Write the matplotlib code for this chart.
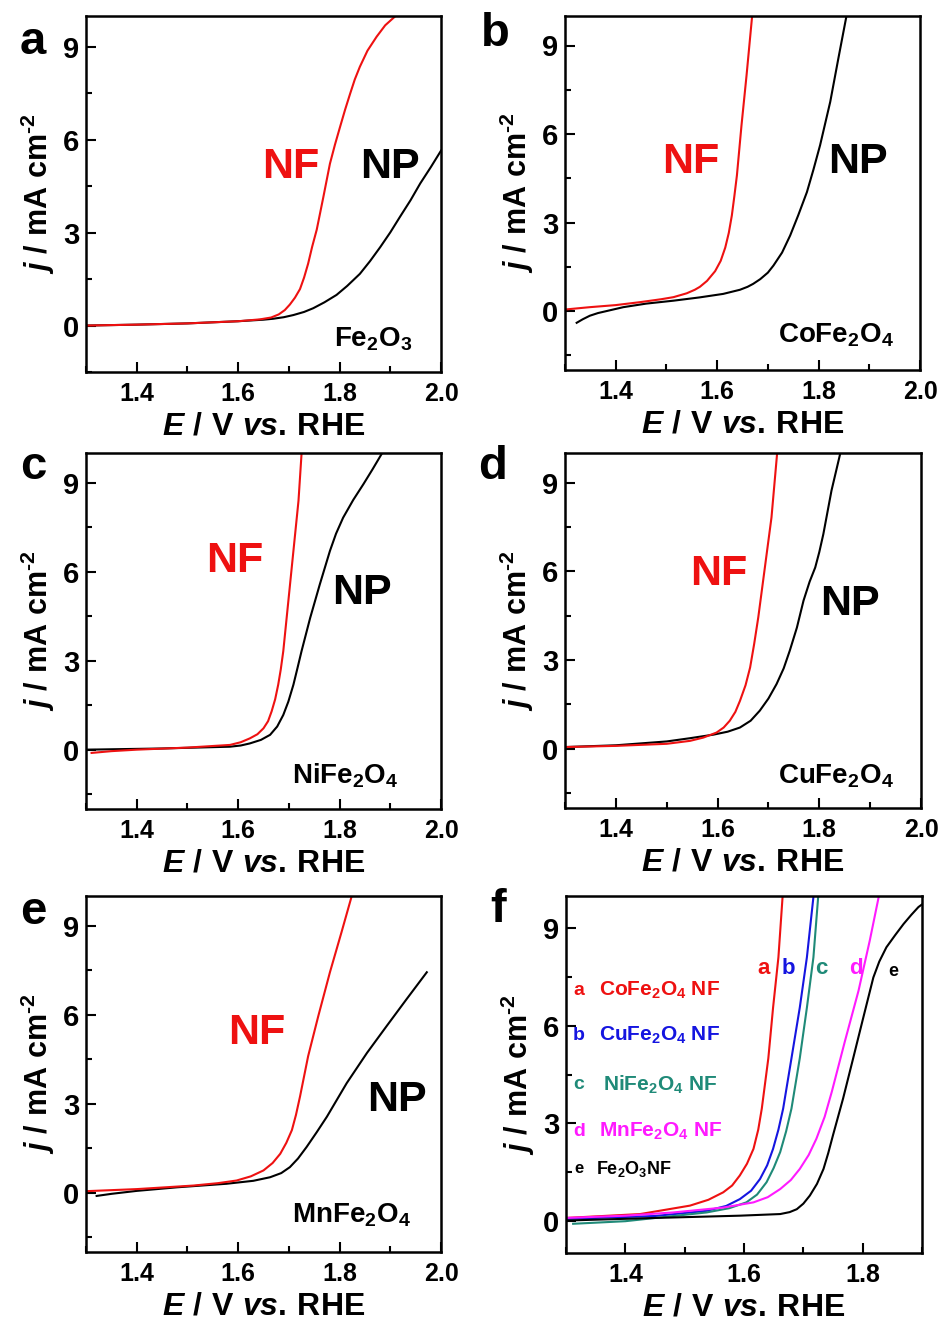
import numpy as np
import matplotlib
matplotlib.use("Agg")
import matplotlib.pyplot as plt
from matplotlib.ticker import MultipleLocator

plt.rcParams["font.family"] = ["Liberation Sans", "DejaVu Sans"]
plt.rcParams["font.weight"] = "bold"
plt.rcParams["axes.labelweight"] = "bold"
plt.rcParams["mathtext.fontset"] = "custom"
plt.rcParams["mathtext.rm"] = "Liberation Sans:bold"
plt.rcParams["mathtext.it"] = "Liberation Sans:bold:italic"
plt.rcParams["mathtext.bf"] = "Liberation Sans:bold"

RED = "#ee1111"
BLUE = "#1515e0"
TEAL = "#1f8a78"
MAGENTA = "#ff1aff"

# ---- panel a: Fe2O3 ----
a_nf_x = [1.30, 1.40, 1.50, 1.60, 1.643, 1.665, 1.680, 1.692, 1.702, 1.712, 1.722, 1.730,
          1.738, 1.746, 1.755, 1.768, 1.781, 1.791, 1.801, 1.811, 1.821, 1.830, 1.840,
          1.855, 1.873, 1.890, 1.909]
a_nf_y = [0.0, 0.03, 0.07, 0.14, 0.20, 0.26, 0.36, 0.50, 0.68, 0.90, 1.18, 1.55,
          2.00, 2.55, 3.10, 4.15, 5.23, 5.85, 6.42, 6.98, 7.50, 7.95, 8.36,
          8.88, 9.33, 9.70, 9.98]
a_np_x = [1.30, 1.40, 1.50, 1.60, 1.65, 1.669, 1.69, 1.709, 1.73, 1.748, 1.77, 1.794,
          1.815, 1.840, 1.860, 1.880, 1.90, 1.919, 1.94, 1.959, 1.98, 2.00]
a_np_y = [0.0, 0.03, 0.07, 0.14, 0.19, 0.22, 0.27, 0.34, 0.44, 0.56, 0.75, 0.99,
          1.28, 1.67, 2.08, 2.53, 3.01, 3.51, 4.05, 4.59, 5.12, 5.65]

# ---- panel b: CoFe2O4 ----
b_nf_x = [1.30, 1.349, 1.40, 1.448, 1.49, 1.514, 1.54, 1.556, 1.566, 1.58, 1.596, 1.607,
          1.616, 1.623, 1.629, 1.634, 1.639, 1.648, 1.658, 1.669]
b_nf_y = [0.05, 0.13, 0.20, 0.30, 0.40, 0.47, 0.60, 0.72, 0.82, 1.02, 1.35, 1.70,
          2.15, 2.65, 3.24, 3.90, 4.60, 6.29, 7.99, 10.0]
b_np_x = [1.323, 1.335, 1.349, 1.365, 1.38, 1.415, 1.46, 1.514, 1.565, 1.612, 1.645, 1.66,
          1.671, 1.685, 1.70, 1.711, 1.728, 1.744, 1.760, 1.777, 1.790, 1.803, 1.823,
          1.839, 1.855]
b_np_y = [-0.40, -0.28, -0.16, -0.07, -0.01, 0.13, 0.25, 0.35, 0.46, 0.58, 0.72, 0.82,
          0.92, 1.08, 1.30, 1.54, 1.98, 2.56, 3.25, 4.03, 4.80, 5.62, 7.09,
          8.56, 10.0]

# ---- panel c: NiFe2O4 ----
c_nf_x = [1.311, 1.35, 1.40, 1.50, 1.584, 1.605, 1.623, 1.638, 1.650, 1.659, 1.666, 1.673,
          1.679, 1.684, 1.689, 1.699, 1.709, 1.719, 1.725]
c_nf_y = [-0.11, -0.05, 0.0, 0.07, 0.16, 0.25, 0.38, 0.52, 0.72, 0.96, 1.29, 1.70,
          2.19, 2.70, 3.32, 5.01, 6.70, 8.39, 9.97]
c_np_x = [1.30, 1.45, 1.584, 1.605, 1.623, 1.645, 1.663, 1.677, 1.689, 1.699, 1.709, 1.717,
          1.725, 1.742, 1.761, 1.781, 1.793, 1.807, 1.827, 1.847, 1.865, 1.883]
c_np_y = [0.0, 0.04, 0.10, 0.14, 0.21, 0.33, 0.50, 0.78, 1.17, 1.62, 2.19, 2.75,
          3.32, 4.44, 5.57, 6.70, 7.28, 7.82, 8.42, 8.95, 9.45, 9.97]

# ---- panel d: CuFe2O4 ----
d_nf_x = [1.30, 1.40, 1.50, 1.546, 1.572, 1.598, 1.612, 1.624, 1.635, 1.644, 1.655, 1.664,
          1.672, 1.680, 1.693, 1.706, 1.717]
d_nf_y = [0.06, 0.10, 0.17, 0.27, 0.38, 0.55, 0.72, 0.95, 1.25, 1.62, 2.15, 2.75,
          3.55, 4.44, 6.13, 7.82, 9.97]
d_np_x = [1.30, 1.40, 1.50, 1.546, 1.592, 1.62, 1.644, 1.665, 1.683, 1.70, 1.716, 1.730,
          1.742, 1.756, 1.769, 1.781, 1.792, 1.800, 1.808, 1.824, 1.841]
d_np_y = [0.06, 0.12, 0.25, 0.36, 0.48, 0.58, 0.72, 0.95, 1.29, 1.70, 2.19, 2.72,
          3.32, 4.10, 5.01, 5.65, 6.13, 6.65, 7.26, 8.73, 9.97]

# ---- panel e: MnFe2O4 ----
e_nf_x = [1.30, 1.40, 1.512, 1.56, 1.597, 1.625, 1.650, 1.668, 1.683, 1.695, 1.706, 1.714,
          1.722, 1.738, 1.758, 1.781, 1.804, 1.824]
e_nf_y = [0.05, 0.12, 0.24, 0.32, 0.41, 0.55, 0.75, 1.00, 1.31, 1.68, 2.11, 2.62,
          3.24, 4.60, 5.95, 7.43, 8.79, 10.0]
e_np_x = [1.321, 1.35, 1.40, 1.479, 1.577, 1.63, 1.663, 1.685, 1.702, 1.718, 1.735, 1.755,
          1.775, 1.814, 1.854, 1.893, 1.932, 1.972]
e_np_y = [-0.11, -0.04, 0.06, 0.18, 0.30, 0.40, 0.52, 0.66, 0.86, 1.15, 1.54, 2.04,
          2.56, 3.69, 4.71, 5.62, 6.52, 7.43]

# ---- panel f: all NF ----
f_a_x = [1.30, 1.425, 1.509, 1.54, 1.565, 1.580, 1.593, 1.605, 1.616, 1.624, 1.630, 1.641,
         1.649, 1.658, 1.665]
f_a_y = [0.08, 0.20, 0.46, 0.64, 0.87, 1.08, 1.39, 1.75, 2.21, 2.80, 3.45, 5.00,
         6.56, 8.11, 9.97]
f_b_x = [1.30, 1.45, 1.537, 1.57, 1.593, 1.612, 1.627, 1.639, 1.649, 1.658, 1.666, 1.680,
         1.694, 1.706, 1.717]
f_b_y = [0.05, 0.14, 0.30, 0.45, 0.66, 0.92, 1.28, 1.70, 2.21, 2.80, 3.45, 5.00,
         6.56, 8.11, 9.97]
f_c_x = [1.312, 1.40, 1.537, 1.575, 1.604, 1.622, 1.638, 1.650, 1.661, 1.671, 1.680, 1.694,
         1.706, 1.717, 1.725]
f_c_y = [-0.10, -0.02, 0.25, 0.38, 0.56, 0.80, 1.18, 1.62, 2.11, 2.75, 3.45, 5.00,
         6.56, 8.11, 9.97]
f_d_x = [1.30, 1.40, 1.481, 1.565, 1.616, 1.640, 1.661, 1.679, 1.694, 1.709, 1.722, 1.736,
         1.748, 1.770, 1.793, 1.812, 1.827]
f_d_y = [0.08, 0.15, 0.25, 0.40, 0.56, 0.72, 0.97, 1.25, 1.59, 2.02, 2.52, 3.20,
         3.97, 5.52, 7.08, 8.63, 9.97]
f_e_x = [1.30, 1.45, 1.593, 1.661, 1.677, 1.689, 1.700, 1.711, 1.723, 1.734, 1.742, 1.750,
         1.767, 1.784, 1.801, 1.818, 1.828, 1.840, 1.855, 1.869, 1.882, 1.894, 1.90]
f_e_y = [0.0, 0.08, 0.15, 0.20, 0.26, 0.35, 0.52, 0.77, 1.13, 1.59, 2.08, 2.63,
         3.76, 5.00, 6.25, 7.49, 7.98, 8.42, 8.80, 9.14, 9.42, 9.66, 9.74]

f_names = ["CoFe$_2$O$_4$ NF", "CuFe$_2$O$_4$ NF", "NiFe$_2$O$_4$ NF", "MnFe$_2$O$_4$ NF",
           "Fe$_2$O$_3$NF"]
f_letters = ["a", "b", "c", "d", "e"]

W, H = 947, 1327


def box(l, r, t, b):
    return [l / W, 1 - b / H, (r - l) / W, (b - t) / H]


def style(ax, xlim, ylim, xticks):
    ax.set_xlim(*xlim)
    ax.set_ylim(*ylim)
    ax.set_xticks(xticks)
    ax.set_xticklabels([f"{v:.1f}" for v in xticks])
    ax.set_yticks([0, 3, 6, 9])
    ax.xaxis.set_minor_locator(MultipleLocator(0.1))
    ax.yaxis.set_minor_locator(MultipleLocator(1.5))
    ax.tick_params(which="both", direction="in", width=1.5, top=False, right=False)
    ax.tick_params(which="major", length=7)
    ax.tick_params(which="minor", length=4)
    ax.tick_params(axis="x", labelsize=18, pad=7)
    ax.tick_params(axis="y", labelsize=21, pad=5)
    for s in ax.spines.values():
        s.set_linewidth(1.8)
    ax.set_xlabel(r"$\mathit{E}\ /\ \mathrm{V}\ \mathit{vs.}\,\mathrm{RHE}$", fontsize=23,
                  labelpad=4)
    ax.set_ylabel(r"$\mathit{j}\ /\ \mathrm{mA\ cm}^{\text{-2}}$", fontsize=22, labelpad=4)


fig = plt.figure(figsize=(W / 100, H / 100), dpi=100)

panels = [
    ("a", box(86, 441, 16, 372), (-1.5, 10), a_nf_x, a_nf_y, a_np_x, a_np_y,
     (1.703, 5.12), (1.90, 5.12), (1.867, -0.45), "Fe$_2$O$_3$", (33, 42)),
    ("b", box(565, 920, 16, 370), (-2, 10), b_nf_x, b_nf_y, b_np_x, b_np_y,
     (1.547, 5.04), (1.878, 5.04), (1.834, -0.82), "CoFe$_2$O$_4$", (495, 34)),
    ("c", box(86, 441, 453, 809), (-2, 10), c_nf_x, c_nf_y, c_np_x, c_np_y,
     (1.594, 6.36), (1.844, 5.29), (1.811, -0.87), "NiFe$_2$O$_4$", (33, 467)),
    ("d", box(565, 921, 453, 808), (-2, 10), d_nf_x, d_nf_y, d_np_x, d_np_y,
     (1.602, 5.90), (1.861, 4.89), (1.833, -0.92), "CuFe$_2$O$_4$", (493, 467)),
    ("e", box(86, 441, 896, 1252), (-2, 10), e_nf_x, e_nf_y, e_np_x, e_np_y,
     (1.637, 5.38), (1.913, 3.11), (1.824, -0.77), "MnFe$_2$O$_4$", (33, 912)),
]

for (lab, rect, ylim, nfx, nfy, npx, npy, nf_pos, np_pos, comp_pos, comp, lpos) in panels:
    ax = fig.add_axes(rect)
    ax.plot(npx, npy, color="black", lw=1.5)
    ax.plot(nfx, nfy, color=RED, lw=1.5)
    style(ax, (1.3, 2.0), ylim, [1.4, 1.6, 1.8, 2.0])
    ax.text(*nf_pos, "NF", color=RED, fontsize=31, ha="center", va="center")
    ax.text(*np_pos, "NP", color="black", fontsize=31, ha="center", va="center")
    ax.text(*comp_pos, comp, color="black", fontsize=20, ha="center", va="center")
    fig.text(lpos[0] / W, 1 - lpos[1] / H, lab, fontsize=34, ha="center", va="center")

# panel f
ax = fig.add_axes(box(566, 922, 896, 1253))
f_series = [(f_a_x, f_a_y, RED), (f_b_x, f_b_y, BLUE), (f_c_x, f_c_y, TEAL),
            (f_d_x, f_d_y, MAGENTA), (f_e_x, f_e_y, "black")]
for xs, ys, c in f_series:
    ax.plot(xs, ys, color=c, lw=1.5)
style(ax, (1.3, 1.9), (-1, 10), [1.4, 1.6, 1.8])

curve_lab_x = [1.633, 1.675, 1.731, 1.788, 1.852]
curve_lab_y = [7.76, 7.76, 7.76, 7.76, 7.66]
leg_y = [7.08, 5.70, 4.19, 2.74, 1.60]
leg_name_x = [1.355, 1.355, 1.363, 1.355, 1.350]
colors = [RED, BLUE, TEAL, MAGENTA, "black"]
for i in range(5):
    fs = 13 if i == 4 else 16
    ax.text(curve_lab_x[i], curve_lab_y[i], f_letters[i], color=colors[i], fontsize=fs,
            ha="center", va="center")
    ax.text(1.322, leg_y[i], f_letters[i], color=colors[i], fontsize=14 if i < 4 else 12,
            ha="center", va="center")
    ax.text(leg_name_x[i], leg_y[i], f_names[i], color=colors[i],
            fontsize=15 if i < 4 else 13, ha="left", va="center")
fig.text(498 / W, 1 - 910 / H, "f", fontsize=34, ha="center", va="center")

fig.savefig("out.png", dpi=100)
